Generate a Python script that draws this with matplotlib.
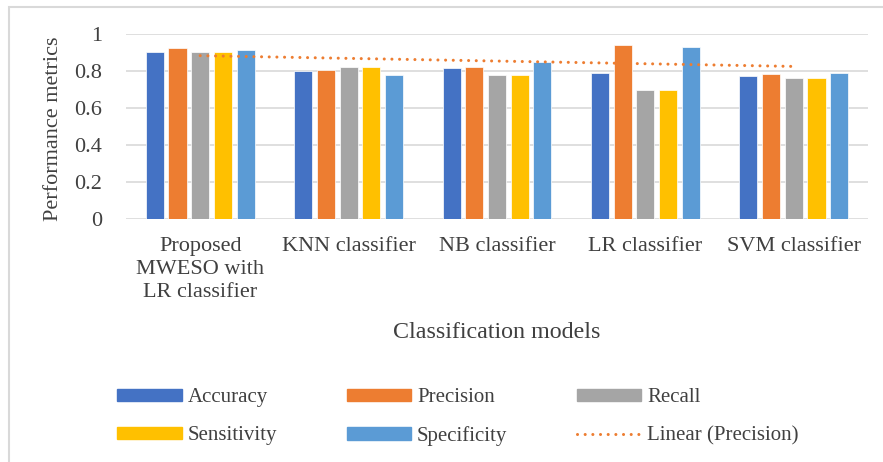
import numpy as np
import matplotlib
matplotlib.use("Agg")
import matplotlib.pyplot as plt
from matplotlib.lines import Line2D
from matplotlib.patches import Patch

plt.rcParams['font.family'] = ['Liberation Serif', 'DejaVu Serif']

models = ['Proposed\nMWESO with\nLR classifier', 'KNN classifier', 'NB classifier',
          'LR classifier', 'SVM classifier']
accuracy = [0.903, 0.800, 0.813, 0.788, 0.773]
precision = [0.921, 0.802, 0.820, 0.939, 0.780]
recall = [0.899, 0.822, 0.775, 0.694, 0.762]
sensitivity = [0.899, 0.822, 0.775, 0.694, 0.762]
specificity = [0.914, 0.775, 0.847, 0.930, 0.788]
yticks = [0, 0.2, 0.4, 0.6, 0.8, 1]
ytick_labels = ['0', '0.2', '0.4', '0.6', '0.8', '1']

series = [('Accuracy', accuracy, '#4472C4'),
          ('Precision', precision, '#ED7D31'),
          ('Recall', recall, '#A5A5A5'),
          ('Sensitivity', sensitivity, '#FFC000'),
          ('Specificity', specificity, '#5B9BD5')]

W, H = 883, 462
fig = plt.figure(figsize=(W / 100, H / 100), dpi=100)
ax = fig.add_axes([126 / W, 1 - 219 / H, (868 - 126) / W, (219 - 33.7) / H])

x = np.arange(len(models))
width = 0.122
pitch = 0.153
for i, (name, vals, col) in enumerate(series):
    ax.bar(x + (i - 2) * pitch, vals, width, color=col, edgecolor='white',
           linewidth=0.5, zorder=3)

# linear trend of precision (like Excel's trendline)
k, b = np.polyfit(x, precision, 1)
ax.plot(x, k * x + b, color='#ED7D31', linewidth=2.2,
        linestyle=(0, (0.01, 2.5)), dash_capstyle='round', zorder=4)

ax.set_xlim(-0.5, len(models) - 0.5)
ax.set_ylim(0, 1)
ax.set_yticks(yticks)
ax.set_yticklabels(ytick_labels)
ax.set_xticks(x)
ax.set_xticklabels(models, linespacing=1.3)
ax.tick_params(axis='y', length=0, pad=17, labelsize=16, labelcolor='#404040')
ax.tick_params(axis='x', length=0, pad=13, labelsize=16, labelcolor='#404040')
ax.grid(axis='y', color='#d9d9d9', linewidth=1.2, zorder=0)
for s in ax.spines.values():
    s.set_visible(False)

fig.text(54 / W, 1 - 129 / H, 'Performance metrics', rotation=90, ha='center',
         va='center', fontsize=16, color='#404040')
fig.text(497 / W, 1 - 332 / H, 'Classification models', ha='center',
         va='center', fontsize=17.3, color='#404040')

handles = [Patch(color=c, label=n) for n, v, c in series]
handles.append(Line2D([0], [0], color='#ED7D31', linewidth=2.2,
                      linestyle=(0, (0.01, 2.5)), dash_capstyle='round',
                      label='Linear (Precision)'))
# order so that rows read: Accuracy Precision Recall / Sensitivity Specificity Linear
order = [0, 3, 1, 4, 2, 5]
leg = fig.legend([handles[i] for i in order], [handles[i].get_label() for i in order],
                 ncol=3, loc='center', bbox_to_anchor=(458 / W, 1 - 417 / H),
                 frameon=False, fontsize=15, handlelength=3.08, handleheight=0.53,
                 handletextpad=0.29, columnspacing=3.34, labelspacing=0.91)
for t in leg.get_texts():
    t.set_color('#404040')

# chart border
fig.add_artist(plt.Rectangle((9 / W, -0.05), 1.2, 1 - 7 / H + 0.05,
                             transform=fig.transFigure, fill=False,
                             edgecolor='#d9d9d9', linewidth=1.5))

fig.savefig('out.png', dpi=100, facecolor='white')
